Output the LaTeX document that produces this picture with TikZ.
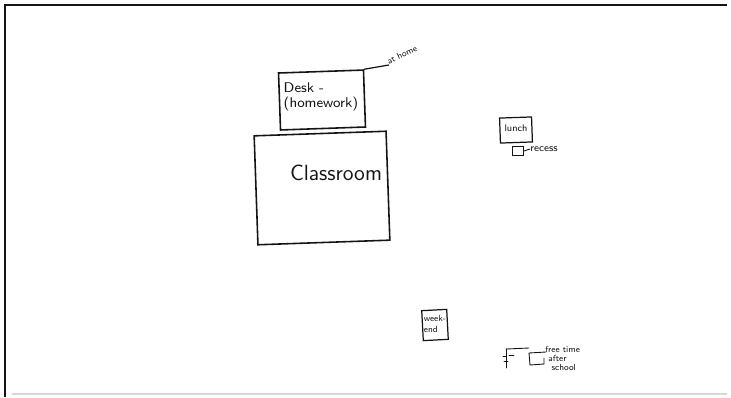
\documentclass[tikz,border=0pt]{standalone}
\usepackage{tikz}
\usetikzlibrary{positioning, calc}
\definecolor{inkblack}{RGB}{20, 20, 20}
\definecolor{scangray}{RGB}{215, 215, 215}

\tikzset{
  roombox/.style={draw=inkblack, line width=0.9pt, inner sep=0pt},
  scrawl/.style={font=\sffamily, text=inkblack, inner sep=0pt, align=left},
  pen/.style={draw=inkblack, line width=0.7pt, line cap=round}
}

\begin{document}
\begin{tikzpicture}[x=0.02cm, y=-0.02cm]
        \useasboundingbox (0,0) rectangle (731,397);
        % Sheet edges
        \draw[inkblack, line width=1.1pt] (5,397) -- (5,5) -- (727,5);
        \draw[scangray, line width=0.8pt] (12,394) -- (727,394);

        % Desk (homework), at home
        \node[roombox, rotate=2, minimum width=1.7cm, minimum height=1.14cm] (desk) at (322,100) {};
        \node[scrawl, font=\sffamily\fontsize{8}{8.5}\selectfont] (desktxt) at (321,97) {Desk -\\(homework)};
        \node[scrawl, font=\sffamily\fontsize{5}{5}\selectfont, rotate=25] (athome) at (402,55) {at home};
        \draw[pen] (desk.north east) -- (athome.south west);

        % Classroom
        \node[roombox, rotate=2, minimum width=2.64cm, minimum height=2.18cm] (classroom) at (322,188) {};
        \node[scrawl, font=\sffamily\fontsize{12.5}{13}\selectfont] (classtxt) at (336,173) {Classroom};

        % Lunch and recess
        \node[roombox, line width=0.7pt, rotate=2, minimum width=0.64cm, minimum height=0.5cm] (lunch) at (516,130) {};
        \node[scrawl, font=\sffamily\fontsize{5.5}{6}\selectfont] (lunchtxt) at (516,128) {lunch};
        \node[roombox, line width=0.6pt, minimum width=0.22cm, minimum height=0.18cm] (recbox) at (518,151) {};
        \node[scrawl, font=\sffamily\fontsize{6}{6}\selectfont, anchor=west] (recess) at (530,149) {recess};
        \draw[pen, line width=0.5pt] (recbox.east) -- (recess.west);

        % Week-end
        \node[roombox, line width=0.7pt, rotate=3, minimum width=0.5cm, minimum height=0.6cm] (weekend) at (435,325) {};
        \node[scrawl, font=\sffamily\fontsize{5}{6}\selectfont] (weektxt) at (435,324) {week-\\end};

        % Free time after school
        \coordinate (flag) at (506,349);
        \draw[pen, line width=0.5pt] (flag) -- ++(0,19);
        \draw[pen, line width=0.5pt] (flag) -- ++(23,-1);
        \draw[pen, line width=0.4pt] (509,355) -- ++(5,0) (503,356) -- ++(3,0) (504,361) -- ++(4,0);
        \coordinate (ftnw) at (529,353);
        \coordinate (ftne) at (546,352);
        \draw[pen, line width=0.5pt] (ftne) -- (ftnw) -- ++(1,12) -- ++(14,-1) -- ++(0,-6);
        \node[scrawl, font=\sffamily\fontsize{5}{5.5}\selectfont, anchor=north west] (freetime) at (545,346) {free time\\[-0.5pt]\ after\\[-0.5pt]\ \ school};
      \end{tikzpicture}
\end{document}
